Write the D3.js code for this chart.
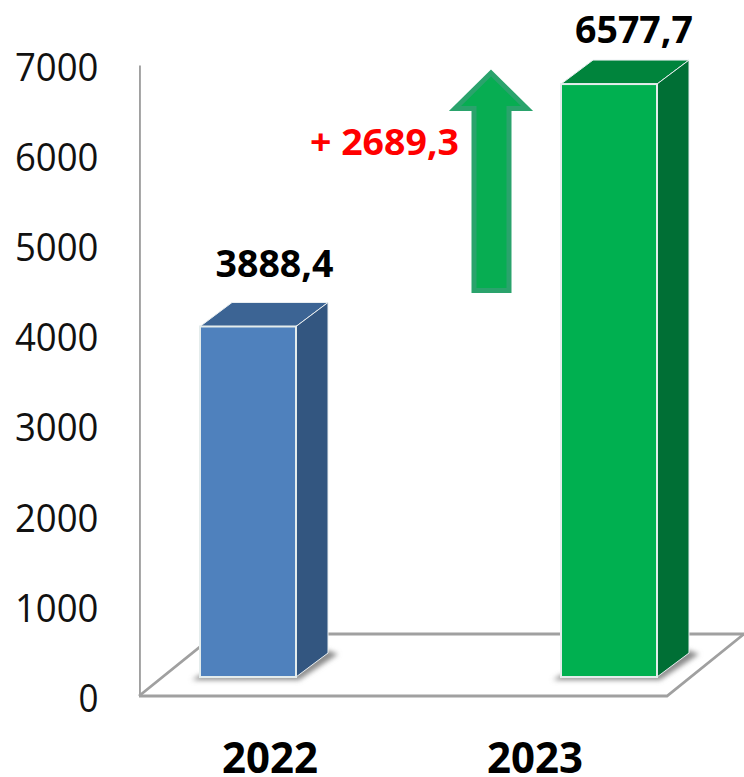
<!DOCTYPE html>
<html><head><meta charset="utf-8">
<script src="https://cdn.jsdelivr.net/npm/d3@7"></script>
<style>html,body{margin:0;background:#fff}svg{display:block}text{font-family:"Open Sans",sans-serif}</style>
</head><body><svg id="c" width="744" height="777"></svg>
<script>
const categories=["2022","2023"];
const values=[3888.4,6577.7];
const valueLabels=["3888,4","6577,7"];
const diffLabel="+ 2689,3";
const tickValues=[0,1000,2000,3000,4000,5000,6000,7000];
const frontColors=["#4f81bd","#00b050"];
const topColors=["#3c6494","#00843c"];
const sideColors=["#335680","#006f35"];

const svg=d3.select("#c");
const defs=svg.append("defs");
defs.append("filter").attr("id","sh").attr("filterUnits","userSpaceOnUse").attr("x",0).attr("y",0).attr("width",744).attr("height",777)
  .append("feGaussianBlur").attr("stdDeviation",2.6);
defs.append("filter").attr("id","soft").attr("filterUnits","userSpaceOnUse").attr("x",0).attr("y",0).attr("width",744).attr("height",777)
  .append("feGaussianBlur").attr("stdDeviation",0.5);

const floorY=696, backY=634, dx=32, dy=24, barW=96, lift=19;
const y=d3.scaleLinear().domain([0,7000]).range([floorY,65]);
const x=d3.scalePoint().domain(categories).range([248,609]);

// axis + floor
const lineCol="#a0a0a0";
const g=svg.append("g");
const floor=g.append("g").attr("fill","none").attr("stroke",lineCol).attr("stroke-width",2.8).attr("filter","url(#soft)");
floor.append("path").attr("d",`M139,${floorY}L667,${floorY}L744,${backY}`);
floor.append("path").attr("d",`M139,${floorY}L${139+77},${backY}L744,${backY}`);
const ax=d3.axisLeft(y).tickValues(tickValues).tickSize(0).tickPadding(40.5).tickFormat(d3.format("d"));
const axG=g.append("g").attr("transform","translate(139,0)").call(ax);
axG.select(".domain").attr("stroke",lineCol).attr("stroke-width",2.8).attr("filter","url(#soft)");
axG.selectAll("text").attr("font-size",38.5).attr("fill","#111").attr("font-family","'Open Sans',sans-serif")
   .attr("dy","0.4em").attr("textLength",83.5).attr("lengthAdjust","spacingAndGlyphs");
axG.selectAll(".tick").filter(d=>d===0).selectAll("text").attr("textLength",20);

// bars
const bars=svg.selectAll("g.bar").data(categories).join("g").attr("class","bar");
bars.each(function(c,i){
  const b=d3.select(this);
  const x0=x(c)-barW/2, x1=x0+barW, yb=floorY-lift, yt=y(values[i])-lift;
  b.append("path").attr("d",`M${x0-8},${yb+3}L${x1+3},${yb+3}L${x1+dx+10},${yb-dy+1}L${x1+dx-2},${yb-dy-3}L${x1},${yb-4}L${x0},${yb-2}Z`)
    .attr("fill","#8a8a8a").attr("filter","url(#sh)");
  b.append("path").attr("d",`M${x0},${yt}L${x0+dx},${yt-dy}L${x1+dx},${yt-dy}L${x1},${yt}Z`)
    .attr("fill",topColors[i]).attr("stroke","#e9eef0").attr("stroke-width",1);
  b.append("path").attr("d",`M${x1},${yt}L${x1+dx},${yt-dy}L${x1+dx},${yb-dy}L${x1},${yb}Z`)
    .attr("fill",sideColors[i]).attr("stroke","#e9eef0").attr("stroke-width",1);
  b.append("rect").attr("x",x0).attr("y",yt).attr("width",barW).attr("height",yb-yt)
    .attr("fill",frontColors[i]).attr("stroke","#e4ecec").attr("stroke-width",2);
});

// labels
const boldText=(t,cx,by,w,fill,size)=>svg.append("text").text(t).attr("x",cx).attr("y",by)
  .attr("text-anchor","middle").attr("font-weight",700).attr("font-size",size).attr("fill",fill)
  .attr("textLength",w).attr("lengthAdjust","spacingAndGlyphs");
const valueCenter=[274.5,634], valueBase=[277,43], catCenter=[270,535];
categories.forEach((c,i)=>{
  boldText(valueLabels[i],valueCenter[i],valueBase[i],118,"#000",38);
  boldText(c,catCenter[i],773,96,"#000",43);
});
boldText(diffLabel,384.5,155,149,"#ff0000",36);

// arrow
svg.append("path").attr("d","M491,73L527,108.5L509,108.5L509,290.5L474,290.5L474,108.5L455,108.5Z")
  .attr("fill","#07ad52").attr("stroke","#2aa36c").attr("stroke-width",5);
</script></body></html>
